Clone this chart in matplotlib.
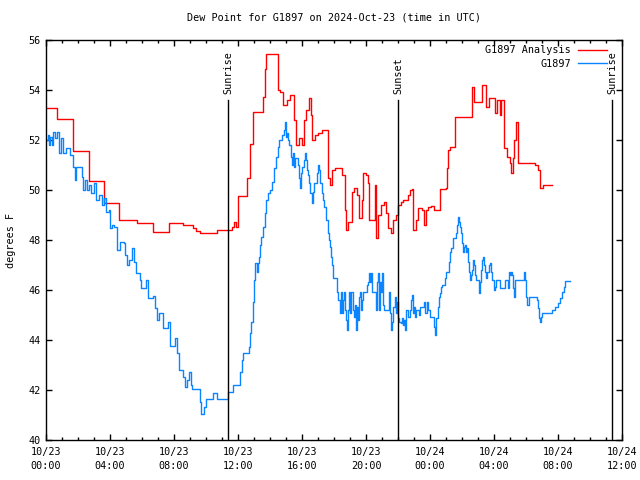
import datetime as dt
import matplotlib
matplotlib.use("Agg")
import matplotlib.pyplot as plt

# hours since 2024-10-23 00:00 UTC, dew point in degrees F
analysis_hours = [0.0, 0.67, 1.67, 2.69, 3.63, 4.58, 5.67, 6.67, 7.69, 8.58, 9.17, 9.38, 9.63,
                  10.67, 11.6, 11.75, 11.88, 12.02, 12.54, 12.75, 12.94, 13.58, 13.66, 13.72,
                  14.48, 14.63, 14.81, 15.06, 15.25, 15.5, 15.63, 15.81, 16.0, 16.13, 16.25,
                  16.44, 16.56, 16.63, 16.81, 17.0, 17.25, 17.63, 17.75, 17.88, 18.06, 18.5,
                  18.69, 18.75, 18.88, 19.13, 19.25, 19.44, 19.56, 19.75, 19.81, 20.0, 20.13,
                  20.19, 20.38, 20.56, 20.63, 20.75, 20.94, 21.13, 21.25, 21.38, 21.56, 21.69,
                  21.88, 22.0, 22.19, 22.31, 22.63, 22.75, 22.88, 22.94, 23.13, 23.25, 23.5,
                  23.63, 23.75, 23.88, 24.06, 24.25, 24.63, 25.0, 25.06, 25.13, 25.25, 25.56,
                  26.63, 26.75, 27.25, 27.5, 27.69, 28.06, 28.19, 28.38, 28.44, 28.63, 28.81,
                  29.0, 29.06, 29.19, 29.25, 29.38, 29.5, 30.56, 30.75, 30.88, 31.06, 31.63]
analysis_dewpt = [53.28, 52.83, 51.55, 50.37, 49.47, 48.8, 48.67, 48.31, 48.67, 48.6, 48.48, 48.36, 48.27,
                  48.4, 48.53, 48.73, 48.53, 49.76, 50.47, 51.84, 53.12, 53.73, 54.84, 55.43,
                  54.0, 53.93, 53.4, 53.6, 53.8, 52.8, 51.8, 52.08, 51.8, 52.8, 53.2,
                  53.68, 53.0, 52.0, 52.2, 52.28, 52.4, 50.48, 50.2, 50.8, 50.88, 50.6,
                  49.2, 48.4, 48.72, 49.92, 50.08, 49.8, 48.88, 49.6, 50.68, 50.6, 50.28,
                  48.8, 48.8, 50.2, 48.08, 49.0, 49.4, 49.52, 49.08, 48.48, 48.28, 48.8,
                  49.0, 49.4, 49.52, 49.6, 49.8, 50.0, 50.04, 48.4, 48.8, 49.28, 49.2,
                  48.6, 49.2, 49.32, 49.36, 49.2, 50.04, 50.08, 50.88, 51.6, 51.72, 52.92,
                  54.12, 53.52, 54.2, 53.32, 53.68, 53.08, 53.6, 53.0, 53.6, 51.68, 51.32,
                  51.08, 50.68, 51.28, 52.0, 52.72, 51.08, 51.0, 50.8, 50.08, 50.2, 50.2]

obs_hours = [0.0, 0.13, 0.19, 0.25, 0.38, 0.44, 0.56, 0.69, 0.81, 0.94, 1.06, 1.25, 1.5, 1.69,
             1.81, 1.88, 2.25, 2.31, 2.44, 2.56, 2.69, 2.81, 3.0, 3.13, 3.31, 3.5, 3.63, 3.75,
             3.94, 4.0, 4.13, 4.25, 4.44, 4.63, 4.88, 4.94, 5.06, 5.19, 5.38, 5.5, 5.63, 5.88,
             5.94, 6.25, 6.38, 6.69, 6.81, 6.94, 7.06, 7.31, 7.63, 7.75, 8.06, 8.19, 8.31, 8.56,
             8.69, 8.81, 8.94, 9.06, 9.13, 9.63, 9.69, 9.88, 10.0, 10.44, 10.69, 11.38, 11.69,
             12.13, 12.25, 12.31, 12.69, 12.75, 12.81, 12.94, 13.0, 13.06, 13.19, 13.25, 13.31,
             13.38, 13.44, 13.56, 13.69, 13.75, 13.88, 14.0, 14.13, 14.25, 14.38, 14.5, 14.56,
             14.75, 14.88, 14.94, 15.0, 15.06, 15.13, 15.19, 15.31, 15.38, 15.44, 15.5, 15.56,
             15.75, 15.81, 15.88, 15.94, 16.0, 16.13, 16.19, 16.25, 16.31, 16.38, 16.44, 16.5,
             16.63, 16.69, 16.75, 16.94, 17.0, 17.06, 17.13, 17.25, 17.31, 17.38, 17.5, 17.63,
             17.69, 17.75, 17.81, 17.88, 17.94, 18.19, 18.25, 18.38, 18.44, 18.5, 18.56, 18.63,
             18.69, 18.75, 18.81, 18.88, 18.94, 19.0, 19.06, 19.19, 19.25, 19.31, 19.38, 19.44,
             19.5, 19.56, 19.63, 19.69, 19.75, 19.81, 20.06, 20.13, 20.19, 20.25, 20.31, 20.38,
             20.63, 20.69, 20.75, 20.81, 20.88, 20.94, 21.0, 21.06, 21.13, 21.44, 21.5, 21.56,
             21.63, 21.69, 21.81, 21.88, 21.94, 22.0, 22.06, 22.19, 22.25, 22.31, 22.38, 22.44,
             22.5, 22.63, 22.75, 22.81, 22.88, 22.94, 23.0, 23.06, 23.13, 23.31, 23.38, 23.63,
             23.69, 23.81, 23.88, 24.0, 24.25, 24.31, 24.38, 24.5, 24.56, 24.63, 24.69, 24.75,
             24.94, 25.0, 25.19, 25.25, 25.31, 25.44, 25.63, 25.69, 25.75, 25.81, 25.88, 25.94,
             26.0, 26.06, 26.13, 26.19, 26.25, 26.31, 26.38, 26.44, 26.5, 26.56, 26.63, 26.69,
             26.75, 26.81, 26.88, 27.06, 27.13, 27.19, 27.25, 27.31, 27.38, 27.44, 27.5, 27.56,
             27.69, 27.75, 27.81, 27.88, 28.0, 28.06, 28.13, 28.38, 28.69, 28.88, 28.94, 29.0,
             29.06, 29.13, 29.19, 29.25, 29.31, 29.88, 29.94, 30.0, 30.06, 30.19, 30.69, 30.75,
             30.81, 30.88, 30.94, 31.0, 31.63, 31.81, 32.0, 32.13, 32.25, 32.38, 32.44, 32.75]
obs_dewpt = [52.0, 52.2, 51.8, 52.12, 51.8, 52.32, 52.08, 52.32, 51.48, 52.08, 51.48, 51.68, 51.4, 50.92,
             50.4, 50.92, 50.52, 50.0, 50.4, 50.0, 50.2, 49.88, 50.28, 49.6, 49.8, 49.4, 49.68, 49.12,
             49.2, 48.48, 48.6, 48.52, 47.6, 47.92, 47.88, 47.4, 47.0, 47.2, 47.68, 47.12, 46.68, 46.4,
             46.08, 46.4, 45.68, 45.76, 45.28, 44.8, 45.08, 44.48, 44.72, 43.76, 44.08, 43.48, 42.8, 42.52,
             42.12, 42.4, 42.72, 42.2, 42.04, 41.52, 41.04, 41.32, 41.64, 41.88, 41.64, 41.92, 42.2,
             42.72, 43.2, 43.48, 43.72, 44.28, 44.72, 45.52, 46.4, 47.08, 46.72, 47.08, 47.32,
             47.8, 48.12, 48.52, 49.08, 49.6, 49.88, 50.0, 50.32, 50.88, 51.32, 51.72, 52.0,
             52.2, 52.4, 52.72, 52.12, 52.28, 52.0, 51.8, 51.32, 51.0, 51.48, 50.92, 51.28,
             51.0, 50.48, 50.08, 50.68, 50.92, 51.2, 51.48, 51.2, 50.8, 50.6, 50.28, 49.88,
             49.48, 49.92, 50.28, 50.68, 51.0, 50.8, 50.28, 49.88, 49.6, 49.32, 48.8, 48.28,
             48.0, 47.72, 47.32, 47.0, 46.48, 45.92, 45.6, 45.08, 45.92, 45.08, 45.6, 45.92,
             45.2, 44.8, 44.4, 45.2, 45.92, 45.08, 45.92, 45.2, 44.92, 45.4, 44.4, 45.32,
             44.8, 45.72, 45.92, 45.2, 45.6, 45.92, 46.2, 46.32, 46.68, 46.32, 46.68, 45.92,
             45.2, 46.32, 46.68, 45.2, 46.32, 45.92, 46.68, 45.4, 45.2, 45.92, 45.08, 44.4,
             44.72, 45.32, 45.72, 45.08, 45.52, 44.88, 44.72, 44.68, 44.88, 44.6, 44.8, 44.4,
             45.2, 44.92, 45.2, 45.6, 45.8, 45.08, 45.32, 44.92, 45.2, 45.0, 45.32, 45.52,
             45.08, 45.52, 45.2, 44.92, 44.52, 44.2, 44.88, 45.32, 45.72, 45.88, 46.12, 46.2,
             46.48, 46.72, 47.12, 47.52, 47.68, 48.08, 48.28, 48.6, 48.92, 48.72, 48.52, 48.28,
             47.88, 47.52, 47.72, 47.8, 47.52, 47.68, 47.12, 46.72, 46.4, 46.6, 46.8, 47.2,
             47.0, 46.6, 46.4, 45.88, 46.32, 46.8, 47.2, 47.32, 47.0, 46.72, 46.48, 46.72,
             47.0, 47.08, 46.72, 46.4, 46.0, 46.12, 46.4, 46.08, 46.4, 46.08, 46.72, 46.6,
             46.72, 46.6, 46.08, 45.72, 46.4, 46.72, 46.4, 45.72, 45.4, 45.72, 45.6, 45.28,
             44.88, 44.72, 44.92, 45.08, 45.2, 45.32, 45.48, 45.68, 45.92, 46.12, 46.36, 46.36]

sun_events = [(11.38, "Sunrise"), (22.02, "Sunset"), (35.39, "Sunrise")]
start = dt.datetime(2024, 10, 23, 0, 0)

plt.rcParams['font.family'] = ['DejaVu Sans Mono']
fs = 7.3

fig = plt.figure(figsize=(6.4, 4.8), dpi=100)
ax = fig.add_axes([46 / 640, 40 / 480, 576 / 640, 400 / 480])

ax.plot(analysis_hours, analysis_dewpt, drawstyle='steps-post', color='#ff0000', lw=1.0, label='G1897 Analysis')
ax.plot(obs_hours, obs_dewpt, drawstyle='steps-post', color='#0a84ff', lw=1.0, label='G1897')

for h, name in sun_events:
    ax.axvline(h, ymin=0, ymax=0.85, color='black', lw=1.0)
    ax.text(h, 0.865, name, transform=ax.get_xaxis_transform(), rotation=90,
            ha='center', va='bottom', fontsize=fs)

ax.set_xlim(0, 36)
ax.set_ylim(40, 56)
major = list(range(0, 37, 4))
ax.set_xticks(major)
ax.set_xticklabels([(start + dt.timedelta(hours=h)).strftime('%m/%d\n%H:%M') for h in major],
                   fontsize=fs, linespacing=1.5)
ax.set_xticks(range(0, 37), minor=True)
ax.set_yticks(range(40, 57, 2))
ax.set_yticklabels([str(v) for v in range(40, 57, 2)], fontsize=fs)
ax.tick_params(which='both', direction='in', top=True, right=True, width=1.0)
ax.tick_params(which='major', length=4.5, pad=5)
ax.tick_params(axis='y', which='major', pad=4)
ax.tick_params(which='minor', length=2.5)
for s in ax.spines.values():
    s.set_linewidth(1.0)

ax.set_title('Dew Point for G1897 on 2024-Oct-23 (time in UTC)', fontsize=fs, pad=14)
ax.set_ylabel('degrees F', fontsize=fs, labelpad=9)

ax.legend(loc='upper right', frameon=False, markerfirst=False, fontsize=fs,
          handlelength=2.9, handletextpad=0.65, labelspacing=0.35,
          borderaxespad=0.1, bbox_to_anchor=(0.983, 1.0))

fig.savefig('out.png', dpi=100)
